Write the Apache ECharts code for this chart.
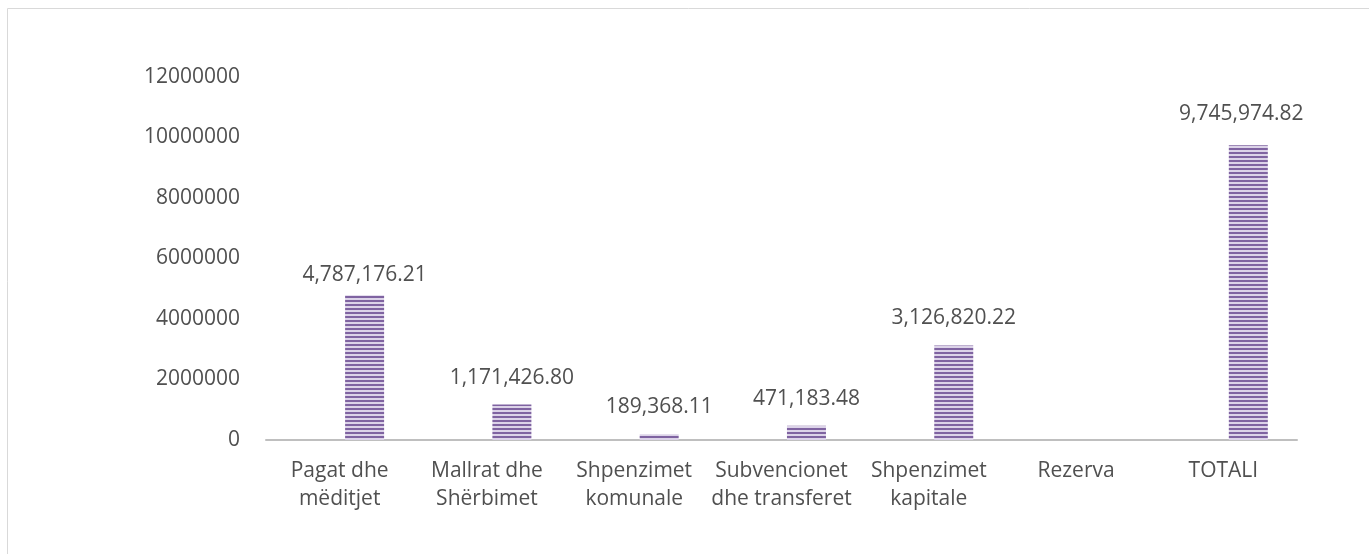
<!DOCTYPE html>
<html>
<head>
<meta charset="utf-8">
<script src="https://cdn.jsdelivr.net/npm/echarts@6/dist/echarts.min.js"></script>
<style>
  html, body { margin: 0; padding: 0; background: #fff; }
  #chart { width: 1369px; height: 554px; }
</style>
</head>
<body>
<div id="chart"></div>
<script>
// kategoritë
const categories = [
  'Pagat dhe\nmëditjet',
  'Mallrat dhe\nShërbimet',
  'Shpenzimet\nkomunale',
  'Subvencionet\ndhe transferet',
  'Shpenzimet\nkapitale',
  'Rezerva',
  'TOTALI'
]
// vlerat (Rezerva pa vlerë)
const values = [4787176.21, 1171426.80, 189368.11, 471183.48, 3126820.22, null, 9745974.82]
const yTicks = { min: 0, max: 12000000, interval: 2000000 }

// mostra me vija horizontale për shtyllat
function stripePattern () {
  const c = document.createElement('canvas')
  c.width = 4
  c.height = 4
  const ctx = c.getContext('2d')
  ctx.fillStyle = '#DCD3E8'
  ctx.fillRect(0, 0, 4, 4)
  ctx.fillStyle = '#7F63A1'
  ctx.fillRect(0, 0, 4, 2)
  return c
}

const fmt = v => v.toLocaleString('en-US', { minimumFractionDigits: 2, maximumFractionDigits: 2 })
const textColor = '#505050'
const font = 'Open Sans'

// disa etiketa janë pak të zhvendosura në origjinal
const labelFix = { 0: [0, 7], 6: [-7, -4] }

let chart = echarts.init(document.getElementById('chart'))
chart.setOption({
  animation: false,
  textStyle: { fontFamily: font },
  graphic: [{
    type: 'rect',
    shape: { x: 7.5, y: 8.5, width: 1420, height: 600 },
    style: { fill: 'none', stroke: '#D9D9D9', lineWidth: 1 },
    silent: true
  }],
  grid: { left: 266, right: 72, top: 77, bottom: 114 },
  xAxis: {
    type: 'category',
    data: categories,
    axisLine: { lineStyle: { color: '#BFBFBF', width: 2 } },
    axisTick: { show: false },
    axisLabel: { color: textColor, fontSize: 21, fontFamily: font, lineHeight: 28, margin: 17, interval: 0 }
  },
  yAxis: {
    type: 'value',
    min: yTicks.min,
    max: yTicks.max,
    interval: yTicks.interval,
    axisLine: { show: false },
    axisTick: { show: false },
    splitLine: { show: false },
    axisLabel: { color: textColor, fontSize: 21, fontFamily: font, margin: 26, formatter: v => String(v) }
  },
  series: [
    {
      // seri bosh, si në grafikun origjinal
      type: 'bar',
      name: 'bosh',
      data: categories.map(() => null),
      barWidth: 39
    },
    {
      type: 'bar',
      name: 'Shpenzimet',
      barWidth: 39,
      barGap: '28%',
      itemStyle: { color: { image: stripePattern(), repeat: 'repeat' } },
      label: {
        show: true,
        position: 'top',
        distance: 15,
        lineHeight: 24,
        color: textColor,
        fontSize: 21,
        fontFamily: font,
        formatter: p => (p.value == null ? '' : fmt(p.value))
      },
      data: values.map((v, i) => (labelFix[i] ? { value: v, label: { offset: labelFix[i] } } : v))
    }
  ]
})
</script>
</body>
</html>
